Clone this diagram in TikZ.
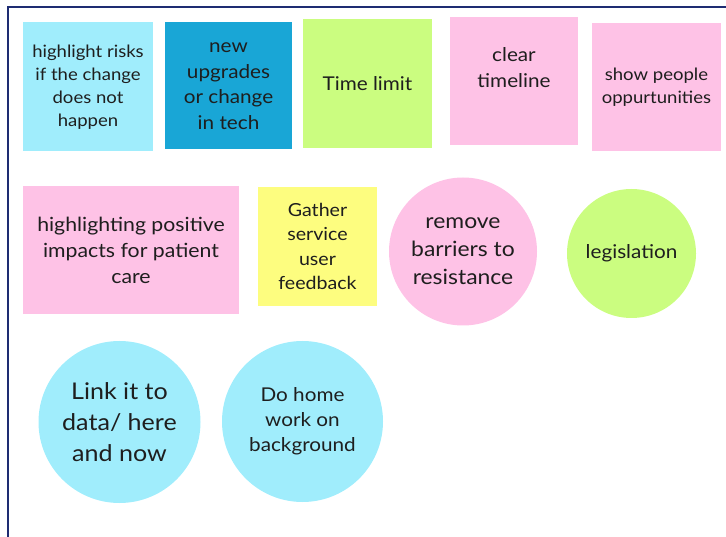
\documentclass[tikz,border=0pt]{standalone}
\usepackage{fontspec}
\setmainfont{Lato}[FakeStretch=1.09]
\usepackage{tikz}

\definecolor{framenavy}{HTML}{1E2C72}
\definecolor{noteink}{HTML}{1E1E1E}
\definecolor{notecyan}{HTML}{A0EDFC}
\definecolor{noteblue}{HTML}{19A6D6}
\definecolor{notegreen}{HTML}{CBFD80}
\definecolor{notepink}{HTML}{FEC2E6}
\definecolor{noteyellow}{HTML}{FDFD7F}

\newcommand{\notesize}[2]{\fontsize{#1}{#2}\selectfont}

\begin{document}
\begin{tikzpicture}[x=1pt,y=-1pt,
		note/.style={rectangle,inner sep=0pt,align=center,text=noteink},
		dot/.style={circle,inner sep=0pt,align=center,text=noteink}]
			\useasboundingbox (0,0) rectangle (726,537);
			% board frame
			\draw[framenavy,line width=2.5pt] (8,537) -- (8,7) -- (726,7);
			% first row of sticky notes
			\node[note,fill=notecyan,minimum width=130,minimum height=129,font=\notesize{17}{23}] (risks) at (88,87) {highlight risks\\if the change\\does not\\happen};
			\node[note,fill=noteblue,minimum width=127,minimum height=127,font=\notesize{19}{25.5}] (upgrades) at (228.5,86) {new\\upgrades\\or change\\in tech};
			\node[note,fill=notegreen,minimum width=129,minimum height=129,font=\notesize{19}{26}] (timelimit) at (367.5,83.5) {Time limit};
			\node[note,fill=notepink,minimum width=128,minimum height=128,font=\notesize{19}{26}] (timeline) at (514,81) {\strut\\[-23pt]clear\\timeline\\\strut};
			\node[note,fill=notepink,minimum width=129,minimum height=128,font=\notesize{17}{23}] (chances) at (656.5,87) {show people\\oppurtunities};
			% second row
			\node[note,fill=notepink,minimum width=216,minimum height=128,font=\notesize{19.5}{26}] (patients) at (131,250) {highlighting positive\\impacts for patient\\care};
			\node[note,fill=noteyellow,minimum width=119,minimum height=119,font=\notesize{18}{24.5}] (feedback) at (317.5,246.5) {Gather\\service\\user\\feedback};
			\node[dot,fill=notepink,minimum size=148,font=\notesize{21}{28}] (barriers) at (463,251.5) {remove\\barriers to\\resistance};
			\node[dot,fill=notegreen,minimum size=129,font=\notesize{19}{26}] (law) at (631.5,253.5) {legislation};
			% third row
			\node[dot,fill=notecyan,minimum size=162,font=\notesize{23}{31}] (data) at (119.5,422) {Link it to\\data/ here\\and now};
			\node[dot,fill=notecyan,minimum size=161,font=\notesize{19}{25}] (homework) at (302.5,421.5) {Do home\\work on\\background};
		\end{tikzpicture}
\end{document}
